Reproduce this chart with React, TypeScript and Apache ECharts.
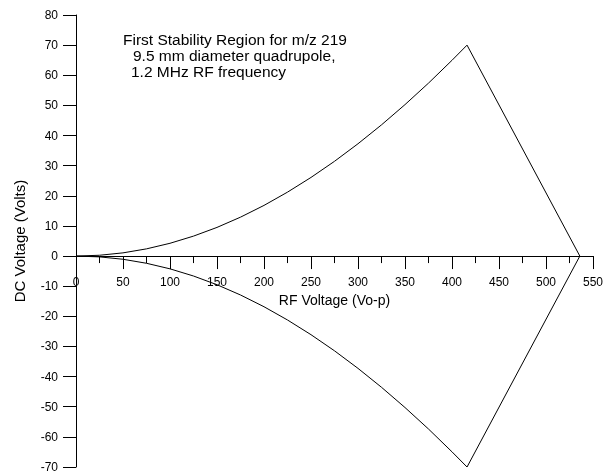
import React, { useEffect, useRef } from "react";
import * as echarts from "echarts";

// RF voltage (Vo-p) sample points along the upper and lower boundaries
const rfVoltage = [0, 25, 50, 75, 100, 125, 150, 175, 200, 225, 250, 275, 300, 325, 350, 375, 400, 416];
// DC voltage on upper boundary (Volts)
const dcUpper = [0, 0.27, 1.06, 2.39, 4.24, 6.62, 9.51, 12.91, 16.81, 21.21, 26.09, 31.44, 37.27, 43.54, 50.26, 57.39, 64.96, 70.0];
// DC voltage on lower boundary (Volts)
const dcLower = [0, -0.27, -1.06, -2.39, -4.24, -6.62, -9.51, -12.91, -16.81, -21.21, -26.09, -31.44, -37.27, -43.54, -50.26, -57.39, -64.96, -70.0];
// right-hand vertex of stability region
const vertexRf = 536;
const vertexDc = 0;

const yMin = -70;
const yMax = 80;

const annotationLines = [
  "First Stability Region for m/z 219",
  "9.5 mm diameter quadrupole,",
  "1.2 MHz RF frequency",
];

export default function App() {
  const ref = useRef<HTMLDivElement>(null);
  useEffect(() => {
    if (!ref.current) return;
    const chart = echarts.init(ref.current, undefined, { renderer: "svg" });
    const data: number[][] = [];
    for (let i = 0; i < rfVoltage.length; i++) data.push([rfVoltage[i], dcUpper[i]]);
    data.push([vertexRf, vertexDc]);
    for (let i = rfVoltage.length - 1; i >= 0; i--) data.push([rfVoltage[i], dcLower[i]]);

    const gridH = 452;
    const zeroOffset = -((0 - yMin) / (yMax - yMin)) * gridH;

    const font = "Liberation Sans, Arial, sans-serif";
    chart.setOption({
      animation: false,
      grid: { left: 76, top: 15, width: 517, height: gridH, containLabel: false },
      xAxis: {
        type: "value",
        min: 0,
        max: 550,
        interval: 50,
        position: "bottom",
        offset: zeroOffset,
        name: "RF Voltage (Vo-p)",
        nameLocation: "middle",
        nameGap: 34,
        nameTextStyle: { color: "#000", fontSize: 14, fontFamily: font },
        axisLine: { onZero: false, lineStyle: { color: "#000", width: 1 } },
        axisTick: { show: true, length: 13, lineStyle: { color: "#000" } },
        minorTick: { show: true, splitNumber: 2, length: 7, lineStyle: { color: "#000" } },
        splitLine: { show: false },
        minorSplitLine: { show: false },
        axisLabel: { color: "#000", fontSize: 12, fontFamily: font, margin: 20 },
      },
      yAxis: {
        type: "value",
        min: yMin,
        max: yMax,
        interval: 10,
        name: "DC Voltage (Volts)",
        nameLocation: "middle",
        nameRotate: 90,
        nameGap: 49,
        nameTextStyle: { color: "#000", fontSize: 15, fontFamily: font },
        axisLine: { onZero: false, lineStyle: { color: "#000", width: 1 } },
        axisTick: { show: true, length: 13, lineStyle: { color: "#000" } },
        splitLine: { show: false },
        axisLabel: { color: "#000", fontSize: 12, fontFamily: font, margin: 18 },
      },
      graphic: [
        {
          type: "text",
          left: 123,
          top: 31,
          style: { text: annotationLines[0], fill: "#000", font: `15.5px ${font}` },
        },
        {
          type: "text",
          left: 133,
          top: 47,
          style: { text: annotationLines[1], fill: "#000", font: `15.5px ${font}` },
        },
        {
          type: "text",
          left: 131,
          top: 63,
          style: { text: annotationLines[2], fill: "#000", font: `15.5px ${font}` },
        },
      ],
      series: [
        {
          type: "line",
          data,
          showSymbol: false,
          symbol: "none",
          lineStyle: { color: "#000", width: 1 },
          silent: true,
        },
      ],
    });
    return () => chart.dispose();
  }, []);
  return (
    <div
      ref={ref}
      style={{ position: "fixed", left: 0, top: 0, width: 606, height: 474 }}
    />
  );
}
